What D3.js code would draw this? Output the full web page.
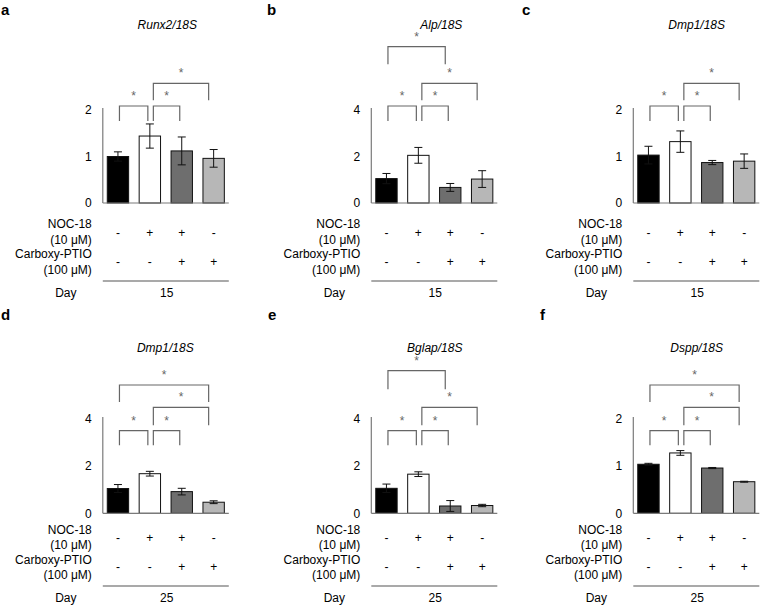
<!DOCTYPE html>
<html>
<head>
<meta charset="utf-8">
<script src="https://cdn.jsdelivr.net/npm/d3@7"></script>
<style>
  html, body { margin: 0; padding: 0; background: #fff; }
  svg { display: block; font-family: "Liberation Sans", Arial, sans-serif; }
</style>
</head>
<body>
<svg id="chart" width="760" height="608"></svg>
<script>
// ---------- data ----------
const panelLetters = ["a", "b", "c", "d", "e", "f"];
const geneTitles = ["Runx2/18S", "Alp/18S", "Dmp1/18S", "Dmp1/18S", "Bglap/18S", "Dspp/18S"];
const dayLabels = ["15", "15", "15", "25", "25", "25"];
const yMaxes = [2, 4, 2, 4, 4, 2];
const yTickValues = [[0, 1, 2], [0, 2, 4], [0, 1, 2], [0, 2, 4], [0, 2, 4], [0, 1, 2]];
const groups = ["Control", "NOC-18", "NOC-18 + PTIO", "PTIO"];
const meanA = [1.00, 1.44, 1.12, 0.96];
const errA  = [0.10, 0.26, 0.30, 0.19];
const meanB = [1.05, 2.05, 0.67, 1.03];
const errB  = [0.22, 0.34, 0.17, 0.36];
const meanC = [1.03, 1.32, 0.87, 0.90];
const errC  = [0.19, 0.23, 0.045, 0.155];
const meanD = [1.05, 1.68, 0.92, 0.47];
const errD  = [0.17, 0.10, 0.14, 0.06];
const meanE = [1.06, 1.66, 0.31, 0.33];
const errE  = [0.18, 0.10, 0.23, 0.05];
const meanF = [1.04, 1.28, 0.96, 0.67];
const errF  = [0.02, 0.05, 0.012, 0.01];
const allMeans = [meanA, meanB, meanC, meanD, meanE, meanF];
const allErrs = [errA, errB, errC, errD, errE, errF];
const nocSigns = ["-", "+", "+", "-"];
const ptioSigns = ["-", "-", "+", "+"];
// comparisons: [from bar, to bar, bracket level]
const bracketsA = [[0, 1, 0], [1, 2, 0], [1, 3, 1]];
const bracketsB = [[0, 1, 0], [1, 2, 0], [1, 3, 1], [0, 2, 3]];
const bracketsC = [[0, 1, 0], [1, 2, 0], [1, 3, 1]];
const bracketsD = [[0, 1, 0], [1, 2, 0], [1, 3, 1], [0, 3, 2]];
const bracketsE = [[0, 1, 0], [1, 2, 0], [1, 3, 1], [0, 2, 3]];
const bracketsF = [[0, 1, 0], [1, 2, 0], [1, 3, 1], [0, 3, 2]];
const allBrackets = [bracketsA, bracketsB, bracketsC, bracketsD, bracketsE, bracketsF];
const rowLabels = [["NOC-18", "(10 \u03bcM)"], ["Carboxy-PTIO", "(100 \u03bcM)"]];

// ---------- layout ----------
const barColors = ["#000000", "#ffffff", "#6e6e6e", "#b7b7b7"];
const colAxisX = [102.8, 371.3, 633.3];
const letterX = [1, 267, 522, 1, 268, 540];
const titleDX = [64.5, 70, 63.4, 62.5, 63.5, 63.4];
const rows = [
  { y0: 203, yTop: 110, title: 28.5, letter: 15, lv: [[106, 15], [83.3, 17], [61, 17], [46.7, 17.5]],
    nocY: [227.5, 243.5], ptioY: [257.5, 273.5], signY: [237, 266], line: 281, day: 297 },
  { y0: 513.3, yTop: 419, title: 352, letter: 320, lv: [[430.7, 14.5], [407.3, 18], [385, 17], [370.7, 18.6]],
    nocY: [533.6, 549.3], ptioY: [563.6, 579.3], signY: [541.5, 571], line: 586, day: 602 }
];

const svg = d3.select("#chart");
const axisColor = "#7a7a7a";
const bracketColor = "#666666";

panelLetters.forEach((letter, p) => {
  const row = rows[Math.floor(p / 3)];
  const ax = colAxisX[p % 3];
  const g = svg.append("g");
  const means = allMeans[p], errs = allErrs[p];

  const x = d3.scaleBand().domain(d3.range(groups.length))
    .range([ax, ax + 126]).paddingInner(0.33).paddingOuter(0.14);
  const y = d3.scaleLinear().domain([0, yMaxes[p]]).range([row.y0, row.yTop]);

  // panel letter
  g.append("text").attr("x", letterX[p]).attr("y", row.letter)
    .attr("font-size", 15).attr("font-weight", "bold").text(letter);
  // title
  g.append("text").attr("x", ax + titleDX[p]).attr("y", row.title)
    .attr("text-anchor", "middle").attr("font-size", 12).attr("font-style", "italic")
    .text(geneTitles[p]);

  // y axis (labels via d3 axis)
  const yAxis = d3.axisLeft(y).tickValues(yTickValues[p]).tickSize(0).tickPadding(11)
    .tickFormat(d3.format("d"));
  const ag = g.append("g").attr("transform", `translate(${ax},0)`).call(yAxis);
  ag.select(".domain").remove();
  ag.selectAll("text").attr("font-size", 12).attr("fill", "#000")
    .attr("font-family", "Liberation Sans, Arial, sans-serif");

  // bars
  g.selectAll("rect.bar").data(means).join("rect")
    .attr("x", (d, i) => x(i)).attr("width", x.bandwidth())
    .attr("y", d => y(d)).attr("height", d => y(0) - y(d))
    .attr("fill", (d, i) => barColors[i]).attr("stroke", "#111").attr("stroke-width", 1);

  // error bars
  means.forEach((m, i) => {
    const cx = x(i) + x.bandwidth() / 2;
    const e = errs[i];
    const eg = g.append("g").attr("stroke", "#111").attr("stroke-width", 1);
    eg.append("line").attr("x1", cx).attr("x2", cx).attr("y1", y(m + e)).attr("y2", y(m - e));
    eg.append("line").attr("x1", cx - 4).attr("x2", cx + 4).attr("y1", y(m + e)).attr("y2", y(m + e));
    eg.append("line").attr("x1", cx - 4).attr("x2", cx + 4).attr("y1", y(m - e)).attr("y2", y(m - e));
  });

  // axes lines
  g.append("line").attr("x1", ax).attr("x2", ax).attr("y1", row.yTop - 2).attr("y2", row.y0)
    .attr("stroke", axisColor).attr("stroke-width", 1.2);
  g.append("line").attr("x1", ax).attr("x2", ax + 126).attr("y1", row.y0).attr("y2", row.y0)
    .attr("stroke", axisColor).attr("stroke-width", 1.2);

  // significance brackets
  allBrackets[p].forEach(([i, j, lvl]) => {
    const [ly, drop] = row.lv[lvl];
    const ci = x(i) + x.bandwidth() / 2, cj = x(j) + x.bandwidth() / 2;
    const x1 = ci + (i === 0 ? 1.5 : 3.5);
    const x2 = cj - (lvl === 0 ? 2 : 5);
    g.append("path")
      .attr("d", `M${x1},${ly + drop}V${ly}H${x2}V${ly + drop}`)
      .attr("fill", "none").attr("stroke", bracketColor).attr("stroke-width", 1.2);
    g.append("text").attr("x", (x1 + x2) / 2).attr("y", ly - 6)
      .attr("text-anchor", "middle").attr("font-size", 12).attr("fill", "#666").text("*");
  });

  // treatment table
  const labelX = ax - 11;
  [[rowLabels[0], row.nocY], [rowLabels[1], row.ptioY]].forEach(([lbls, ys]) => {
    lbls.forEach((t, k) => {
      g.append("text").attr("x", labelX).attr("y", ys[k]).attr("text-anchor", "end")
        .attr("font-size", 12).text(t);
    });
  });
  [nocSigns, ptioSigns].forEach((signs, r) => {
    g.selectAll(null).data(signs).join("text")
      .attr("x", (d, i) => x(i) + x.bandwidth() / 2).attr("y", row.signY[r])
      .attr("text-anchor", "middle").attr("font-size", 12).text(d => d);
  });
  g.append("line").attr("x1", ax).attr("x2", ax + 126).attr("y1", row.line).attr("y2", row.line)
    .attr("stroke", "#555").attr("stroke-width", 1.2);
  g.append("text").attr("x", ax - 37).attr("y", row.day).attr("text-anchor", "middle")
    .attr("font-size", 12).text("Day");
  g.append("text").attr("x", ax + 64).attr("y", row.day).attr("text-anchor", "middle")
    .attr("font-size", 12).text(dayLabels[p]);
});
</script>
</body>
</html>
